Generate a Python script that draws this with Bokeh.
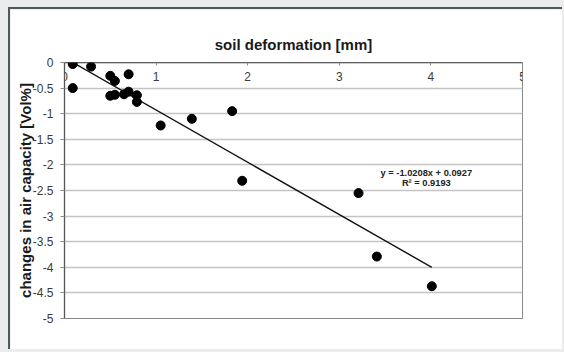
from bokeh.plotting import figure
from bokeh.models import Range1d, LinearAxis, FixedTicker, Label
from bokeh.embed import file_html
from bokeh.resources import INLINE

# data
deformation_mm = [0.09, 0.09, 0.29, 0.50, 0.55, 0.70, 0.50, 0.55, 0.65, 0.70,
                  0.79, 0.79, 1.05, 1.39, 1.83, 1.94, 3.21, 3.41, 4.01]
air_capacity_change = [-0.03, -0.50, -0.08, -0.26, -0.36, -0.23, -0.65, -0.63, -0.62, -0.57,
                       -0.64, -0.77, -1.23, -1.10, -0.95, -2.31, -2.55, -3.79, -4.37]
slope = -1.0208
intercept = 0.0927
r_squared = 0.9193
x_ticks = [0, 1, 2, 3, 4, 5]
x_tick_labels = ["0", "1", "2", "3", "4", "5"]
y_ticks = [0, -0.5, -1, -1.5, -2, -2.5, -3, -3.5, -4, -4.5, -5]
y_tick_labels = ["0", "-0.5", "-1", "-1.5", "-2", "-2.5", "-3", "-3.5", "-4", "-4.5", "-5"]

FONT = "Liberation Sans"
TICK_COLOR = "#3a3a3a"

p = figure(width=554, height=342, output_backend="svg", toolbar_location=None,
           x_axis_location=None,
           x_range=Range1d(0, 5), y_range=Range1d(-5, 0),
           min_border_left=54, min_border_right=42, min_border_top=53, min_border_bottom=33,
           background_fill_color="white", border_fill_color="white")
p.styles = {"border-left": "2px solid #4f585d", "border-top": "2px solid #4f585d"}

p.outline_line_color = "#8a8a8a"
p.outline_line_width = 1

# title (x-axis title placed on top, as in the reference)
p.title.text = "soil deformation [mm]"
p.title.text_font = FONT
p.title.text_font_size = "15px"
p.title.text_font_style = "bold"
p.title.text_color = "#1a1a1a"
p.title.align = "center"
p.title.standoff = 20

# x axis at y = 0 (top of plot) with labels below the line
xaxis = LinearAxis(fixed_location=0)
xaxis.ticker = FixedTicker(ticks=x_ticks)
xaxis.major_label_overrides = {t: l for t, l in zip(x_ticks, x_tick_labels)}
xaxis.minor_tick_line_color = None
xaxis.major_tick_in = 0
xaxis.major_tick_out = 3
xaxis.major_tick_line_color = "#8a8a8a"
xaxis.axis_line_color = "#333333"
xaxis.axis_line_width = 1.3
xaxis.major_label_standoff = 6
xaxis.major_label_text_font = FONT
xaxis.major_label_text_font_size = "12px"
xaxis.major_label_text_color = TICK_COLOR
p.add_layout(xaxis, "below")

# y axis
yaxis = p.yaxis[0]
yaxis.ticker = FixedTicker(ticks=y_ticks)
yaxis.major_label_overrides = {t: l for t, l in zip(y_ticks, y_tick_labels)}
yaxis.minor_tick_line_color = None
yaxis.major_tick_in = 0
yaxis.major_tick_out = 4
yaxis.major_tick_line_color = "#8a8a8a"
yaxis.axis_line_color = "#555555"
yaxis.axis_line_width = 1.3
yaxis.major_label_standoff = 7
yaxis.major_label_text_font = FONT
yaxis.major_label_text_font_size = "12px"
yaxis.major_label_text_color = TICK_COLOR
yaxis.axis_label = "changes in air capacity [Vol%]"
yaxis.axis_label_text_font = FONT
yaxis.axis_label_text_font_size = "15px"
yaxis.axis_label_text_font_style = "bold"
yaxis.axis_label_text_color = "#1a1a1a"
yaxis.axis_label_standoff = -4

p.xgrid.visible = False
p.ygrid.ticker = FixedTicker(ticks=y_ticks)
p.ygrid.grid_line_color = "#c4c4c4"
p.ygrid.grid_line_width = 1.5

# trend line over the range of the data
x0, x1 = min(deformation_mm), max(deformation_mm)
p.line([x0, x1], [slope * x0 + intercept, slope * x1 + intercept],
       line_color="#111111", line_width=1.4)

# data points
p.scatter(deformation_mm, air_capacity_change, size=9, marker="circle",
          fill_color="black", line_color="black")

eq_text = "y = %.4fx + %.4f" % (slope, intercept)
r2_text = "R\u00b2 = %.4f" % r_squared
p.add_layout(Label(x=3.95, y=-2.156, text=eq_text, text_align="center", text_baseline="middle",
                   text_font=FONT, text_font_size="9.3px", text_font_style="bold",
                   text_color="#222222"))
p.add_layout(Label(x=3.95, y=-2.36, text=r2_text, text_align="center", text_baseline="middle",
                   text_font=FONT, text_font_size="9.3px", text_font_style="bold",
                   text_color="#222222"))

html = file_html(p, INLINE)
page_style = ("<style>html, body { margin: 0 !important; padding: 0 !important; "
              "background: #ececec !important; } "
              "body { padding: 7px 0 0 8px !important; }</style>")
idx = html.rfind("</head>")
html = html[:idx] + page_style + html[idx:]
open("out.html", "w").write(html)
